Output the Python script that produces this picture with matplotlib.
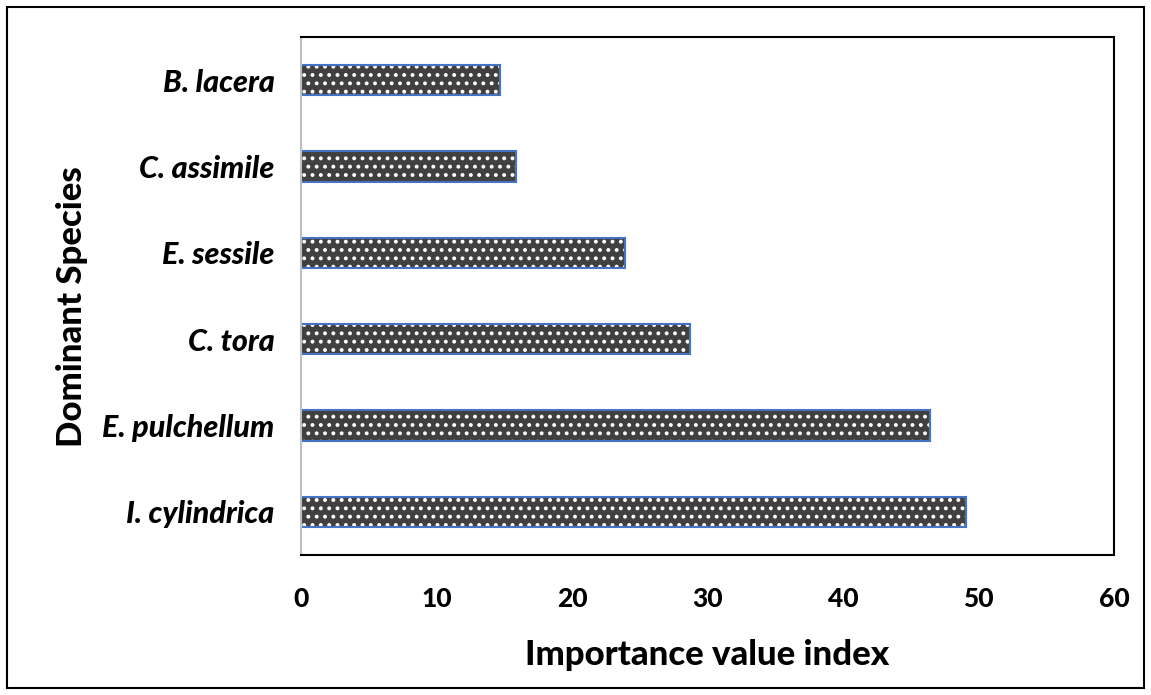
import matplotlib.pyplot as plt
from matplotlib.patches import Rectangle

# Importance value index of the dominant species
species = ['I. cylindrica', 'E. pulchellum', 'C. tora', 'E. sessile', 'C. assimile', 'B. lacera']
ivi = [49.1, 46.4, 28.7, 23.9, 15.9, 14.7]
xticks = [0, 10, 20, 30, 40, 50, 60]

plt.rcParams['font.family'] = ['Lato', 'DejaVu Sans']
plt.rcParams['hatch.linewidth'] = 1.6

fig = plt.figure(figsize=(11.51, 6.95), dpi=100)
ax = fig.add_axes([301 / 1151, 1 - 555 / 695, (1114 - 301) / 1151, (555 - 37) / 695])

pos = range(len(species))
# dark fill with white dots, then the blue outline on top
ax.barh(pos, ivi, height=0.35, color='#404040', hatch='..', edgecolor='white', linewidth=0)
ax.barh(pos, ivi, height=0.35, fill=False, edgecolor='#4472c4', linewidth=1.5)

ax.set_xlim(0, 60)
ax.set_ylim(-0.5, len(species) - 0.5)
ax.set_xticks(xticks)
ax.set_xticklabels([str(v) for v in xticks], fontsize=19, fontweight='black')
ax.set_yticks(list(pos))
ax.set_yticklabels(species, fontsize=22, fontweight='black', style='italic')
ax.tick_params(axis='y', length=0, pad=19)
ax.tick_params(axis='x', length=0, pad=23)

for side in ['top', 'right', 'bottom']:
    ax.spines[side].set_color('black')
    ax.spines[side].set_linewidth(1.5)
ax.spines['left'].set_color('#bfbfbf')
ax.spines['left'].set_linewidth(1.5)

ax.set_xlabel('Importance value index', fontsize=25, fontweight='black', labelpad=20)
ax.set_ylabel('Dominant Species', fontsize=25, fontweight='black')
ax.yaxis.set_label_coords(-213 / 813, 0.48)

# border around the whole chart
fig.patches.append(Rectangle((7 / 1151, 7 / 695), 1137 / 1151, 681 / 695,
                             transform=fig.transFigure, fill=False,
                             edgecolor='black', linewidth=1.5))

fig.savefig('out.png', dpi=100)
